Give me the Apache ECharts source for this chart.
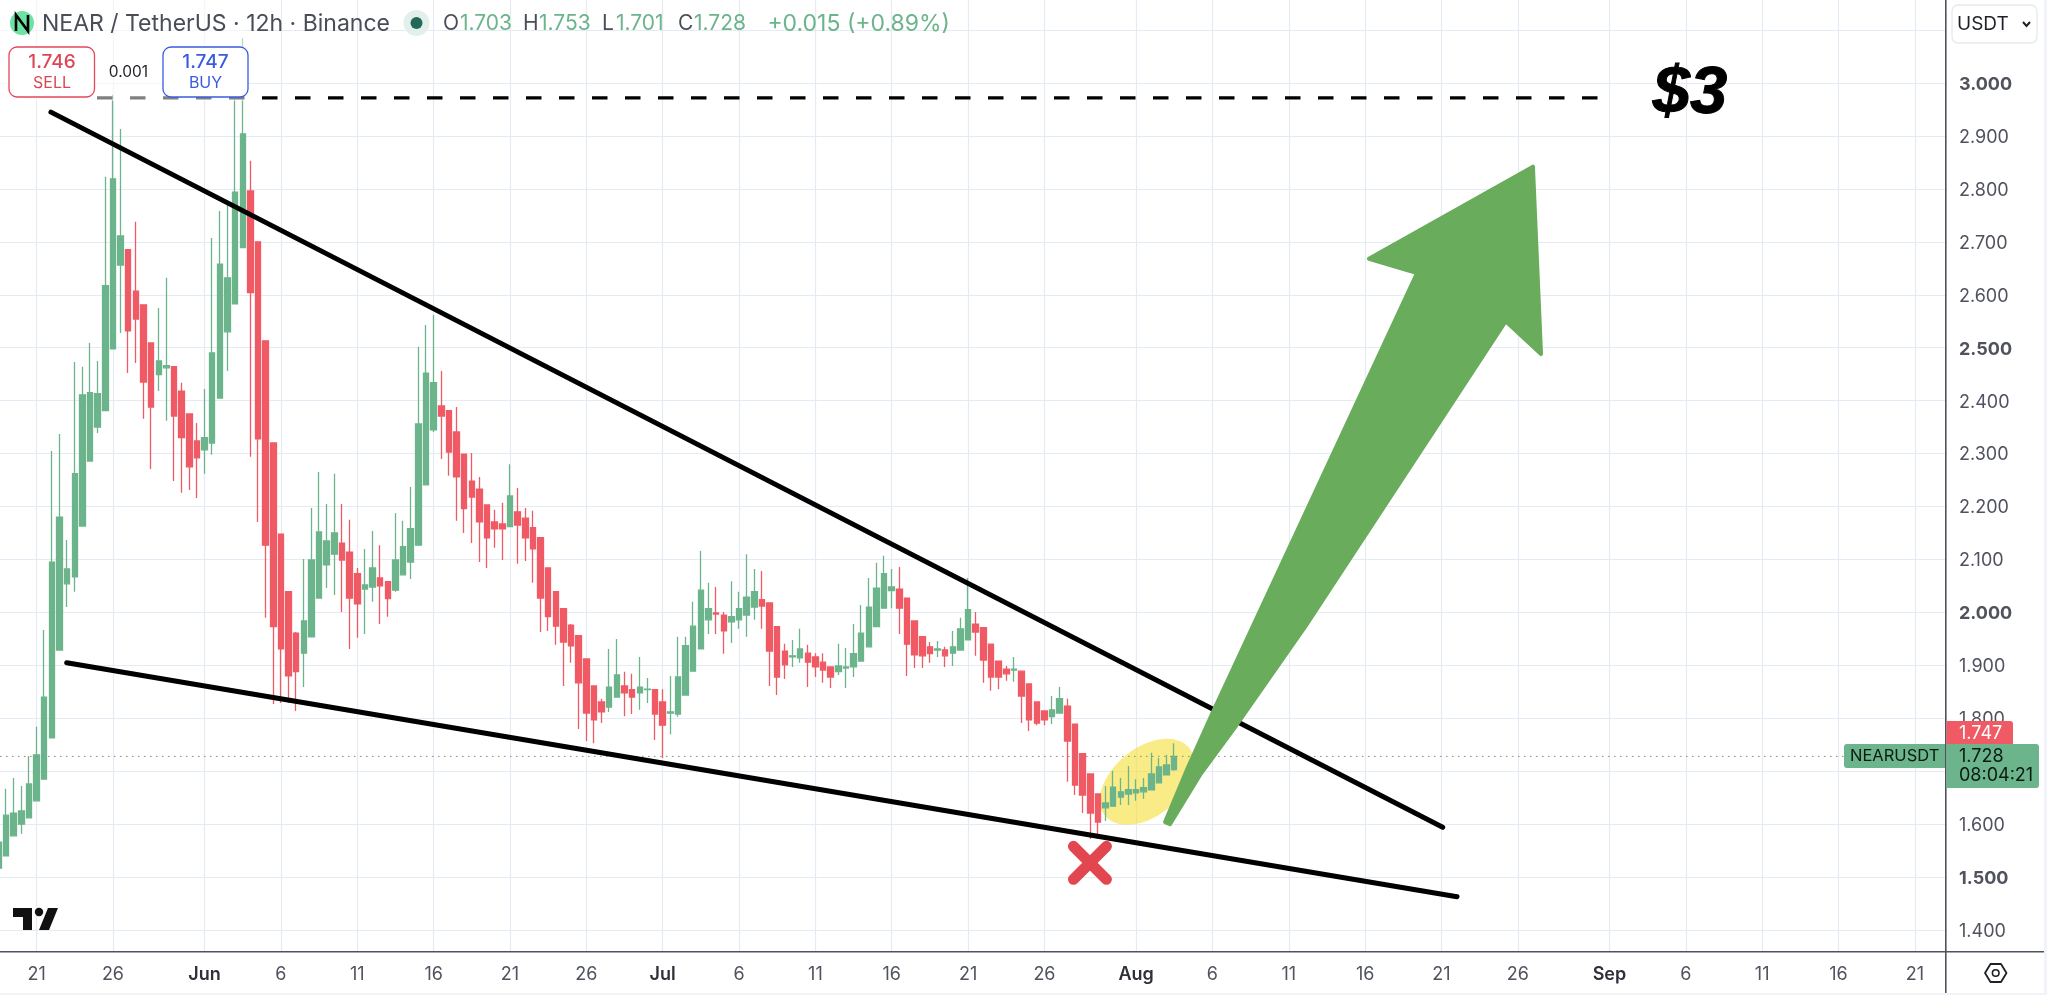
<!DOCTYPE html>
<html><head><meta charset="utf-8">
<style>html,body{margin:0;padding:0;background:#fff}#c{width:2047px;height:995px}</style>
<script src="https://cdn.jsdelivr.net/npm/echarts@6/dist/echarts.min.js"></script>
</head><body><div id="c"></div>
<script>
// 12h candles, starting at firstCandle
const firstCandle = '2025-05-18T12:00:00Z';
const opens = [
1.517,1.540,1.578,1.600,1.612,1.644,1.685,1.763,1.929,2.054,
2.067,2.163,2.286,2.350,2.381,2.498,2.656,2.685,2.607,2.581,
2.509,2.449,2.462,2.464,2.418,2.375,2.324,2.307,2.320,2.405,
2.530,2.583,2.689,2.796,2.700,2.513,2.320,2.148,2.039,1.961,
1.923,1.954,2.027,2.090,2.110,2.131,2.114,2.073,2.044,2.048,
2.065,2.058,2.042,2.071,2.095,2.127,2.241,2.345,2.390,2.381,
2.341,2.299,2.248,2.233,2.203,2.171,2.167,2.162,2.190,2.178,
2.160,2.141,2.084,2.039,2.007,1.976,1.956,1.912,1.861,1.831,
1.821,1.840,1.861,1.854,1.848,1.854,1.854,1.831,1.810,1.808,
1.844,1.889,1.931,1.986,1.999,1.995,1.982,1.986,1.995,2.010,
2.024,2.018,1.973,1.927,1.916,1.914,1.923,1.916,1.906,1.897,
1.888,1.895,1.897,1.908,1.935,1.973,2.008,2.041,2.044,2.027,
1.984,1.954,1.935,1.929,1.929,1.923,1.929,1.948,1.978,1.971,
1.940,1.908,1.893,1.891,1.889,1.865,1.831,1.814,1.803,1.810,
1.823,1.789,1.733,1.695,1.657,1.631,1.634,1.651,1.657,1.659,
1.661,1.665,1.678,1.693,1.703];
const closes = [
1.566,1.617,1.621,1.625,1.676,1.731,1.840,2.095,2.180,2.082,
2.262,2.411,2.415,2.413,2.617,2.819,2.711,2.532,2.554,2.435,
2.388,2.475,2.466,2.371,2.330,2.275,2.292,2.330,2.490,2.658,
2.632,2.794,2.904,2.604,2.328,2.127,1.973,1.931,1.880,1.888,
1.984,2.099,2.152,2.135,2.150,2.099,2.027,2.016,2.052,2.084,
2.050,2.026,2.099,2.124,2.158,2.356,2.452,2.434,2.371,2.303,
2.256,2.196,2.218,2.171,2.141,2.158,2.158,2.220,2.165,2.141,
2.120,2.027,1.992,1.974,1.944,1.937,1.867,1.810,1.797,1.812,
1.859,1.882,1.848,1.840,1.859,1.855,1.808,1.787,1.812,1.878,
1.937,1.974,2.042,2.007,1.997,1.965,1.992,2.007,2.029,2.039,
2.012,1.927,1.878,1.901,1.918,1.931,1.906,1.897,1.891,1.878,
1.899,1.897,1.922,1.961,2.010,2.046,2.073,2.048,2.008,1.940,
1.920,1.918,1.922,1.931,1.918,1.935,1.969,2.005,1.963,1.910,
1.878,1.878,1.884,1.893,1.842,1.797,1.791,1.797,1.816,1.837,
1.757,1.674,1.655,1.621,1.604,1.640,1.670,1.661,1.665,1.665,
1.669,1.695,1.708,1.712,1.728];
const highs = [
1.589,1.667,1.687,1.672,1.729,1.784,1.967,2.305,2.337,2.137,
2.473,2.464,2.509,2.475,2.823,2.978,2.913,2.685,2.738,2.581,
2.509,2.575,2.632,2.464,2.434,2.375,2.358,2.422,2.707,2.758,
2.774,2.974,3.085,2.853,2.700,2.513,2.320,2.148,2.039,1.963,
2.101,2.197,2.265,2.205,2.262,2.205,2.175,2.084,2.120,2.154,
2.127,2.058,2.188,2.173,2.237,2.502,2.543,2.562,2.456,2.381,
2.388,2.299,2.301,2.256,2.203,2.194,2.207,2.280,2.235,2.197,
2.192,2.141,2.084,2.039,2.007,1.978,1.956,1.912,1.861,1.837,
1.931,1.950,1.888,1.884,1.916,1.876,1.854,1.855,1.880,1.954,
1.954,2.020,2.116,2.056,2.048,2.001,2.059,2.039,2.110,2.082,
2.078,2.018,1.973,1.941,1.948,1.969,1.939,1.923,1.923,1.897,
1.941,1.933,1.978,2.014,2.065,2.094,2.107,2.082,2.086,2.027,
1.984,1.954,1.944,1.946,1.935,1.965,1.990,2.065,2.001,1.971,
1.940,1.908,1.899,1.916,1.889,1.865,1.831,1.814,1.842,1.859,
1.837,1.789,1.733,1.695,1.657,1.672,1.701,1.687,1.710,1.685,
1.687,1.735,1.725,1.731,1.753];
const lows = [
1.517,1.540,1.578,1.582,1.612,1.644,1.685,1.763,1.929,2.010,
2.039,2.163,2.286,2.339,2.381,2.498,2.528,2.452,2.471,2.366,
2.271,2.418,2.362,2.248,2.226,2.231,2.216,2.262,2.298,2.405,
2.456,2.583,2.689,2.294,2.171,1.990,1.827,1.829,1.829,1.814,
1.859,1.954,2.027,2.046,2.033,2.001,1.931,1.952,1.959,2.020,
1.978,1.992,2.039,2.071,2.063,2.127,2.241,2.341,2.290,2.258,
2.173,2.150,2.131,2.095,2.084,2.122,2.099,2.162,2.092,2.097,
2.056,1.963,1.965,1.939,1.861,1.905,1.780,1.757,1.753,1.791,
1.812,1.840,1.804,1.808,1.816,1.829,1.759,1.725,1.770,1.803,
1.844,1.889,1.931,1.959,1.959,1.922,1.942,1.969,1.954,1.986,
1.969,1.861,1.844,1.874,1.897,1.905,1.859,1.878,1.867,1.857,
1.882,1.857,1.878,1.908,1.935,1.973,2.008,2.008,1.959,1.880,
1.895,1.895,1.905,1.916,1.897,1.899,1.929,1.948,1.918,1.867,
1.852,1.855,1.871,1.869,1.791,1.776,1.787,1.787,1.789,1.810,
1.680,1.655,1.621,1.572,1.572,1.606,1.634,1.636,1.636,1.644,
1.648,1.665,1.678,1.693,1.701];

const xTickDates = ['2025-05-21','2025-05-26','2025-06-01','2025-06-06','2025-06-11','2025-06-16','2025-06-21','2025-06-26',
 '2025-07-01','2025-07-06','2025-07-11','2025-07-16','2025-07-21','2025-07-26','2025-08-01','2025-08-06','2025-08-11',
 '2025-08-16','2025-08-21','2025-08-26','2025-09-01','2025-09-06','2025-09-11','2025-09-16','2025-09-21'];
const xTickLabels = ['21','26','Jun','6','11','16','21','26','Jul','6','11','16','21','26','Aug','6','11','16','21','26','Sep','6','11','16','21'];
const yTicks = [1.4,1.5,1.6,1.7,1.8,1.9,2.0,2.1,2.2,2.3,2.4,2.5,2.6,2.7,2.8,2.9,3.0,3.1];
const yMin = 1.3591, yMax = 3.1568;
const axisFrom = Date.parse('2025-05-18T14:28:00Z'), axisTo = Date.parse('2025-09-23T00:29:00Z');
const lastClose = 1.728;

// drawn annotations, [days after 21 May, price]
const upperTrend = [[0.94,2.945],[92.08,1.594]];
const lowerTrend = [[1.97,1.905],[93.02,1.463]];
const targetLine = [[3.955,2.972],[102.4,2.972]];
const arrowOutline = [[73.9,1.604],[75.32,1.702],[77.04,1.812],[83.07,2.186],[90.4,2.641],[87.25,2.668],[97.99,2.842],
 [98.52,2.488],[96.21,2.550],[91.64,2.349],[83.10,1.974],[78.55,1.786],[76.19,1.693],[74.22,1.600]];
const ellipseCentre = [72.72,1.680];
const crossCentre = [68.98,1.527];

const dayZero = Date.UTC(2025,4,21);
const at = p => [dayZero + p[0]*864e5, p[1]];
const startMs = Date.parse(firstCandle);
const candles = opens.map((o,i)=>[startMs+i*432e5,o,closes[i],lows[i],highs[i]]);
const tickMs = xTickDates.map(d=>Date.parse(d+'T00:00:00Z'));
const UP='#6cb48b', DOWN='#ef5a65';
const FONT='Inter, "Noto Sans", sans-serif';
const TXT='#50535e', GRID='#e4ebf4';
const hairline = (pts,w,dash) => ({type:'line',data:pts.map(at),showSymbol:false,silent:true,animation:false,z:4,
   lineStyle:{color:'#000',width:w,type:dash||'solid',cap:dash?'butt':'round'}});
const ohlcKeys = [['O',443],['H',523],['L',602],['C',678]];
const ohlcVals = [['1.703',460],['1.753',539],['1.701',616],['1.728',694]];

const option = {
 animation:false, backgroundColor:'#fff',
 grid:{left:0,top:0,right:101.3,bottom:43.3},
 xAxis:{type:'value',min:axisFrom,max:axisTo,scale:true,
   axisLine:{show:false},axisTick:{show:false,customValues:tickMs},
   splitLine:{show:true,lineStyle:{color:GRID,width:1.2}},
   axisLabel:{customValues:tickMs,margin:14,hideOverlap:false,showMinLabel:true,showMaxLabel:true,color:TXT,fontFamily:FONT,fontSize:18,
     formatter:v=>{const l=xTickLabels[tickMs.indexOf(+v)]; return /[A-Z]/.test(l)?'{m|'+l+'}':l;},
     rich:{m:{fontWeight:600,fontSize:18,color:'#2e3039',fontFamily:FONT}}}},
 yAxis:{type:'value',position:'right',min:yMin,max:yMax,scale:true,
   axisLine:{show:false},axisTick:{show:false,customValues:yTicks},
   splitLine:{show:true,lineStyle:{color:GRID,width:1.2}},
   axisLabel:{customValues:yTicks,margin:13.3,padding:[3,0,0,0],color:TXT,fontFamily:FONT,fontSize:18,
     formatter:v=>{const s=(+v).toFixed(3); return (Math.round(v*10)%5===0)?'{b|'+s+'}':s;},
     rich:{b:{fontWeight:700,fontSize:18,color:TXT,fontFamily:FONT}}}},
 series:[
  {type:'custom',z:1,silent:true,data:[at(ellipseCentre)],encode:{x:0,y:1},
   renderItem:(p,api)=>{const c=api.coord([api.value(0),api.value(1)]);
     return {type:'ellipse',x:c[0],y:c[1],rotation:0.68,shape:{cx:0,cy:0,rx:54,ry:34},style:{fill:'rgba(246,222,60,0.62)'}};}},
  {type:'candlestick',z:2,barWidth:6,silent:true,encode:{x:0,y:[1,2,3,4]},data:candles,
   itemStyle:{color:UP,color0:DOWN,borderColor:UP,borderColor0:DOWN,borderWidth:1.3}},
  {type:'line',z:3,silent:true,showSymbol:false,data:[[axisFrom,lastClose],[axisTo,lastClose]],
   lineStyle:{color:'#7f8f86',width:1,type:[1.5,4.5]}},
  hairline(upperTrend,5), hairline(lowerTrend,5), hairline(targetLine,3.4,[15.5,17.5]),
  {type:'custom',z:5,silent:true,data:arrowOutline.map(at),encode:{x:0,y:1},
   renderItem:(p,api)=>{ if(p.dataIndex!==0) return null;
     const pts=arrowOutline.map(q=>api.coord(at(q)));
     return {type:'polygon',shape:{points:pts},style:{fill:'#68ac5c',stroke:'#68ac5c',lineWidth:4,lineJoin:'round'}};}},
  {type:'custom',z:6,silent:true,data:[at(crossCentre)],encode:{x:0,y:1},
   renderItem:(p,api)=>{const c=api.coord([api.value(0),api.value(1)]), r=16.5;
     const st={stroke:'#e2474f',lineWidth:11,lineCap:'round'};
     return {type:'group',children:[
       {type:'line',shape:{x1:c[0]-r,y1:c[1]-r,x2:c[0]+r,y2:c[1]+r},style:st},
       {type:'line',shape:{x1:c[0]-r,y1:c[1]+r,x2:c[0]+r,y2:c[1]-r},style:st}]};}}
 ],
 graphic:{elements:[
  {type:'rect',z:90,shape:{x:0,y:0,width:245,height:101},style:{fill:'rgba(255,255,255,0.5)'}},
  {type:'rect',z:91,shape:{x:1945,y:0,width:1.6,height:993},style:{fill:'#50535e'}},
  {type:'rect',z:91,shape:{x:0,y:951,width:2044,height:1.6},style:{fill:'#50535e'}},
  {type:'rect',z:91,shape:{x:2044,y:0,width:3,height:995},style:{fill:'#f0f3f7'}},
  {type:'rect',z:91,shape:{x:0,y:993,width:2047,height:2},style:{fill:'#f0f3f7'}},
  {type:'circle',z:95,shape:{cx:22,cy:23,r:12},style:{fill:'#6be3a3'}},
  {type:'polyline',z:96,shape:{points:[[16,31],[16,15],[28,31],[28,15]]},style:{stroke:'#000',lineWidth:2.6,fill:null}},
  {type:'text',z:95,x:42,y:24.5,style:{text:'NEAR / TetherUS · 12h · Binance',font:'400 23px '+FONT,fill:'#4a4d58',verticalAlign:'middle'}},
  {type:'circle',z:95,shape:{cx:416.5,cy:23,r:13},style:{fill:'#e2efea'}},
  {type:'circle',z:96,shape:{cx:416.5,cy:23,r:6},style:{fill:'#24685a'}},
  ...ohlcKeys.map(k=>({type:'text',z:95,x:k[1],y:24,style:{text:k[0],font:'400 21px '+FONT,fill:'#4a4d58',verticalAlign:'middle'}})),
  ...ohlcVals.map(k=>({type:'text',z:95,x:k[1],y:24,style:{text:k[0],font:'400 21px '+FONT,fill:'#6cb48b',verticalAlign:'middle'}})),
  {type:'text',z:95,x:950,y:24,style:{text:'+0.015 (+0.89%)',font:'400 23px '+FONT,fill:'#6cb48b',textAlign:'right',verticalAlign:'middle'}},
  {type:'rect',z:95,shape:{x:9,y:47,width:85.5,height:50,r:8},style:{fill:'#fff',stroke:'#e2475a',lineWidth:1.3}},
  {type:'text',z:96,x:52,y:62,style:{text:'1.746',font:'500 19px '+FONT,fill:'#dc4655',textAlign:'center',verticalAlign:'middle'}},
  {type:'text',z:96,x:52,y:83,style:{text:'SELL',font:'400 16px '+FONT,fill:'#dc4655',textAlign:'center',verticalAlign:'middle'}},
  {type:'text',z:96,x:128.5,y:72,style:{text:'0.001',font:'400 15.5px '+FONT,fill:'#1f2128',textAlign:'center',verticalAlign:'middle'}},
  {type:'rect',z:95,shape:{x:163,y:47,width:85,height:50,r:8},style:{fill:'#fff',stroke:'#3a5be0',lineWidth:1.3}},
  {type:'text',z:96,x:205.5,y:62,style:{text:'1.747',font:'500 19px '+FONT,fill:'#3a5be0',textAlign:'center',verticalAlign:'middle'}},
  {type:'text',z:96,x:205.5,y:83,style:{text:'BUY',font:'400 16px '+FONT,fill:'#3a5be0',textAlign:'center',verticalAlign:'middle'}},
  {type:'text',z:95,x:1690,y:95,style:{text:'$3',font:'italic 700 67px "Liberation Sans", sans-serif',fill:'#000',stroke:'#000',lineWidth:1,textAlign:'center',verticalAlign:'middle'}},
  {type:'rect',z:95,shape:{x:1952,y:5,width:85,height:38,r:6},style:{fill:'#fff',stroke:'#e8e9ec',lineWidth:1.3}},
  {type:'text',z:96,x:1957,y:24,style:{text:'USDT',font:'400 19px '+FONT,fill:'#1f2128',verticalAlign:'middle'}},
  {type:'polyline',z:96,shape:{points:[[2023,22],[2026.5,26],[2030,22]]},style:{stroke:'#1f2128',lineWidth:2,fill:null}},
  {type:'rect',z:95,shape:{x:1946.5,y:721,width:66.5,height:24,r:[0,3,0,0]},style:{fill:'#ef5a65'}},
  {type:'text',z:96,x:1959,y:733.5,style:{text:'1.747',font:'400 18px '+FONT,fill:'#fff',verticalAlign:'middle'}},
  {type:'rect',z:95,shape:{x:1946.5,y:744,width:92.5,height:44,r:[0,3,3,0]},style:{fill:'#6cb48b'}},
  {type:'text',z:96,x:1959,y:757,style:{text:'1.728',font:'400 18px '+FONT,fill:'#0c1a14',verticalAlign:'middle'}},
  {type:'text',z:96,x:1959,y:776,style:{text:'08:04:21',font:'400 18px '+FONT,fill:'#0c1a14',verticalAlign:'middle'}},
  {type:'rect',z:95,shape:{x:1844,y:744,width:101,height:24,r:[3,0,0,3]},style:{fill:'#6cb48b'}},
  {type:'text',z:96,x:1850,y:756.5,style:{text:'NEARUSDT',font:'400 16.5px '+FONT,fill:'#0c1a14',verticalAlign:'middle'}},
  {type:'polygon',z:96,shape:{points:[[1985,973],[1990.5,964],[2001,964],[2006.5,973],[2001,982],[1990.5,982]]},style:{fill:'#fff',stroke:'#1f2128',lineWidth:1.8,lineJoin:'round'}},
  {type:'circle',z:97,shape:{cx:1995.7,cy:973,r:3.3},style:{fill:'#fff',stroke:'#1f2128',lineWidth:1.6}},
  {type:'polygon',z:95,shape:{points:[[13,908],[32,908],[32,930],[23,930],[23,917],[13,917]]},style:{fill:'#111'}},
  {type:'circle',z:95,shape:{cx:39,cy:912,r:4.2},style:{fill:'#111'}},
  {type:'polygon',z:95,shape:{points:[[48,908],[58,908],[49,930],[39,930]]},style:{fill:'#111'}}
 ]}
};
const chart = echarts.init(document.getElementById('c'),null,{renderer:'canvas',width:2047,height:995});
chart.setOption(option);
</script></body></html>
